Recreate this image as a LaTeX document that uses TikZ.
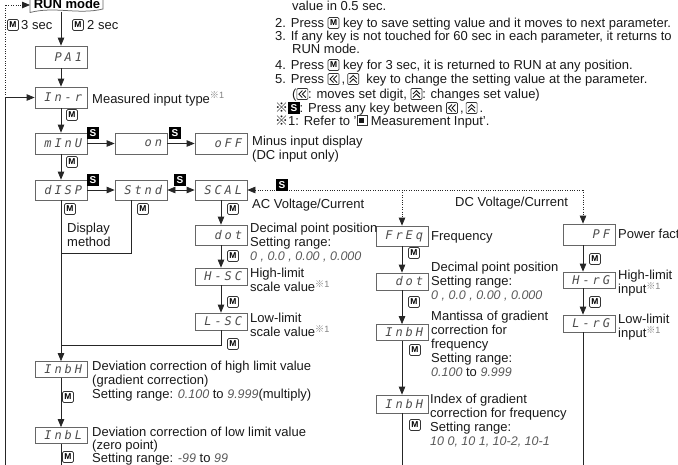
\documentclass[tikz,border=0pt]{standalone}
\usepackage{fontspec}
\setmainfont{Liberation Sans}
\newfontfamily\dispfont{DejaVu Sans Mono}[LetterSpace=24]
\newfontfamily\cjkfont{Noto Sans CJK JP}
\usetikzlibrary{arrows.meta}
\tikzset{
  ln/.style={draw=black!85, line width=0.75pt},
  arr/.style={ln, -{Triangle[length=8pt,width=6.5pt]}},
  darr/.style={ln, {Triangle[length=8pt,width=6.5pt]}-{Triangle[length=8pt,width=6.5pt]}},
  dotln/.style={draw=black!85, line width=0.75pt, dash pattern=on 1pt off 1.4pt},
  dotarr/.style={dotln, -{Triangle[length=8pt,width=6.5pt]}},
  dotrarr/.style={dotln, {Triangle[length=8pt,width=6.5pt]}-},
  disp/.style={draw=black!60, line width=0.75pt, rectangle, minimum width=52pt, minimum height=#1, inner sep=0pt, text width=42pt, align=right, font=\dispfont\itshape\fontsize{12}{12}\selectfont, text=black!70},
  disp/.default=21pt,
  mkey/.style={draw=black!80, line width=0.7pt, rounded corners=1.3pt, minimum width=11pt, minimum height=11pt, inner sep=0pt, text=black, font=\bfseries\fontsize{8.5}{8.5}\selectfont, anchor=center},
  skey/.style={fill=black, text=white, minimum width=11.5pt, minimum height=11.5pt, inner sep=0pt, font=\bfseries\fontsize{10}{10}\selectfont, anchor=center},
  txt/.style={anchor=north west, inner sep=0pt, align=left, text=black!90, font=\fontsize{13}{14}\selectfont},
}
\newcommand\rng[1]{{\itshape\fontsize{12.5}{12.5}\selectfont\color{black!65}#1}}
\newcommand\kome{{\cjkfont ※}}
\newcommand\refone{\textsuperscript{\color{black!50}\kome 1}}
\newcommand\iM{\tikz[baseline=-4.5pt]\node[mkey] at (0pt,0pt) {M};}
\newcommand\iS{\tikz[baseline=-4.5pt]\node[skey] at (0pt,0pt) {S};}
\newcommand\iL{\tikz[baseline=-4.5pt]{\draw[black!80,line width=0.7pt,rounded corners=1pt] (-5.5pt,-5.5pt) rectangle (5.5pt,5.5pt); \draw[line width=0.9pt] (0pt,3.5pt) -- (-3.5pt,0pt) -- (0pt,-3.5pt) (3.5pt,3.5pt) -- (0pt,0pt) -- (3.5pt,-3.5pt);}}
\newcommand\iU{\tikz[baseline=-4.5pt]{\draw[black!80,line width=0.7pt,rounded corners=1pt] (-5.5pt,-5.5pt) rectangle (5.5pt,5.5pt); \draw[line width=0.9pt] (-3.5pt,0pt) -- (0pt,3.5pt) -- (3.5pt,0pt) (-3.5pt,-3.5pt) -- (0pt,0pt) -- (3.5pt,-3.5pt);}}
\newcommand\iSq{\tikz[baseline=-4.5pt]{\draw[black!80,line width=0.7pt] (-5pt,-5pt) rectangle (5pt,5pt); \fill (-2.5pt,-2.5pt) rectangle (2.5pt,2.5pt);}}
\begin{document}
\begin{tikzpicture}[x=1pt,y=-1pt]
\useasboundingbox (0,0) rectangle (678,464);
\clip (0,0) rectangle (678,464);

% RUN mode
\draw[draw=black!60, line width=0.75pt] (30,-6) -- (30,12.5) .. controls (55,6) and (78,15) .. (103,9) -- (103,-6);
\node[inner sep=0pt, font=\bfseries\fontsize{13}{13}\selectfont] (run) at (67,3.5) {RUN mode};
\coordinate (runb) at (61,11.5);
\coordinate (runw) at (30,5);

% display boxes
\node[disp=22pt] (PA1) at (61,57) {PA1};
\node[disp] (Inr) at (61,97.5) {In-r};
\node[disp] (mInU) at (61,143.5) {mInU};
\node[disp=20pt] (dISP) at (61,190) {dISP};
\node[disp] (on) at (141,143.5) {on};
\node[disp] (oFF) at (221,143.5) {oFF};
\node[disp=20pt] (Stnd) at (141,190) {Stnd};
\node[disp=20pt] (SCAL) at (221,190) {SCAL};
\node[disp=20pt] (dot1) at (221,235) {dot};
\node[disp=17pt] (HSC) at (221,276.5) {H-SC};
\node[disp=17pt] (LSC) at (221,321.5) {L-SC};
\node[disp=16pt] (InbH1) at (61,369.5) {InbH};
\node[disp=16pt] (InbL) at (61,435.5) {InbL};
\node[disp=20pt] (FrEq) at (402,236) {FrEq};
\node[disp=17pt] (dot2) at (402,281.5) {dot};
\node[disp=16pt] (InbH2) at (402,332.5) {InbH};
\node[disp=18pt] (InbH3) at (402,404) {InbH};
\node[disp=21pt] (PF) at (589,234.5) {PF};
\node[disp=16pt] (HrG) at (589,280) {H-rG};
\node[disp=17pt] (LrG) at (589,323.5) {L-rG};

% connectors
\draw[arr] (runb) -- (PA1);
\draw[arr] (PA1) -- (Inr);
\draw[arr] (Inr) -- (mInU);
\draw[arr] (mInU) -- (dISP);
\draw[arr] (mInU) -- (on);
\draw[arr] (on) -- (oFF);
\draw[arr] (dISP) -- (Stnd);
\draw[darr] (Stnd) -- (SCAL);
\draw[arr] (SCAL) -- (dot1);
\draw[arr] (dot1) -- (HSC);
\draw[arr] (HSC) -- (LSC);
\coordinate (jA) at (61,253);
\coordinate (jB) at (61,345);
\draw[ln] ([xshift=-10pt]Stnd.south) |- (jA);
\draw[ln] (LSC.south) |- (jB);
\draw[arr] (dISP) -- (InbH1);
\draw[arr] (InbH1) -- (InbL);
\coordinate (lb) at (61,470);
\draw[ln] (InbL) -- (lb);

\coordinate (lbot) at (5,470);
\coordinate (lmid) at (5,97.5);
\coordinate (ltop) at (5,5);
\draw[arr] (lbot) -- (lmid) -- (Inr);
\draw[dotarr] (lmid) -- (ltop) -- (runw);

\coordinate (dA) at (402,190);
\coordinate (dB) at (583,190);
\draw[dotrarr] (SCAL) -- (dB);
\draw[dotarr] (dA) -- (FrEq);
\draw[dotarr] (dB) -- (dB |- PF.north);

\draw[arr] (FrEq) -- (dot2);
\draw[arr] (dot2) -- (InbH2);
\draw[arr] (InbH2) -- (InbH3);
\coordinate (mb) at (402,470);
\draw[ln] (InbH3) -- (mb);

\coordinate (rb) at (583,470);
\draw[arr] (dB |- PF.south) -- (dB |- HrG.north);
\draw[arr] (dB |- HrG.south) -- (dB |- LrG.north);
\draw[ln] (dB |- LrG.south) -- (rb);

% M keys
\node[mkey] (k1) at (13,25) {M};
\node[mkey] (k2) at (78,25) {M};
\node[mkey] (k3) at (72,115) {M};
\node[mkey] (k4) at (72,162) {M};
\node[mkey] (k5) at (70,209) {M};
\node[mkey] (k6) at (143,209) {M};
\node[mkey] (k7) at (233,209) {M};
\node[mkey] (k8) at (233,256) {M};
\node[mkey] (k9) at (233,302) {M};
\node[mkey] (k10) at (233,344) {M};
\node[mkey] (k11) at (68,397) {M};
\node[mkey] (k12) at (68,457) {M};
\node[mkey] (k13) at (414,253) {M};
\node[mkey] (k14) at (414,302) {M};
\node[mkey] (k15) at (415,350) {M};
\node[mkey] (k16) at (415,425) {M};
\node[mkey] (k17) at (595,259) {M};
\node[mkey] (k18) at (595,302) {M};

% S keys
\node[skey] (s1) at (93,133) {S};
\node[skey] (s2) at (175,133) {S};
\node[skey] (s3) at (93,180) {S};
\node[skey] (s4) at (180,180) {S};
\node[skey] (s5) at (282,185) {S};

% texts
\node[txt] (t3s) at (21,20) {3 sec};
\node[txt] (t2s) at (87,20) {2 sec};
\node[txt] (tInr) at (92,92) {Measured input type\refone};
\node[txt] (tmin) at (252,136) {Minus input display\\(DC input only)};
\node[txt] (tdisp) at (67,223) {Display\\method};
\node[txt] (tac) at (252,199) {AC Voltage/Current};
\node[txt] (tdc) at (455,197) {DC Voltage/Current};
\node[txt] (tdot1) at (250,223) {Decimal point position\\Setting range:\\\rng{0 , 0.0 , 0.00 , 0.000}};
\node[txt] (thsc) at (250,268) {High-limit\\scale value\refone};
\node[txt] (tlsc) at (250,313) {Low-limit\\scale value\refone};
\node[txt] (tfreq) at (431,231) {Frequency};
\node[txt] (tdot2) at (431,262) {Decimal point position\\Setting range:\\\rng{0 , 0.0 , 0.00 , 0.000}};
\node[txt] (tmant) at (431,311) {Mantissa of gradient\\correction for\\frequency\\Setting range:\\\rng{0.100} to \rng{9.999}};
\node[txt] (tidx) at (430,394) {Index of gradient\\correction for frequency\\Setting range:\\\rng{10 0, 10 1, 10-2, 10-1}};
\node[txt] (tpf) at (618,229) {Power factor};
\node[txt] (thrg) at (618,270) {High-limit\\input\refone};
\node[txt] (tlrg) at (618,314) {Low-limit\\input\refone};
\node[txt] (tinbh) at (92,361) {Deviation correction of high limit value\\(gradient correction)\\Setting range: \rng{0.100} to \rng{9.999}(multiply)};
\node[txt, font=\fontsize{13}{13}\selectfont] (tinbl) at (92,427) {Deviation correction of low limit value\\(zero point)\\Setting range: \rng{-99} to \rng{99}};

\node[txt] (n1) at (292,1) {value in 0.5 sec.};
\node[txt] (n2) at (275,17) {2. Press \iM\ key to save setting value and it moves to next parameter.};
\node[txt] (n3) at (275,31) {3. If any key is not touched for 60 sec in each parameter, it returns to};
\node[txt] (n4) at (292,44) {RUN mode.};
\node[txt] (n5) at (275,59) {4. Press \iM\ key for 3 sec, it is returned to RUN at any position.};
\node[txt] (n6) at (275,73) {5. Press \iL\,,\,\iU\ \ key to change the setting value at the parameter.};
\node[txt] (n7) at (292,88) {(\iL: moves set digit, \iU: changes set value)};
\node[txt] (n8) at (275,102) {\kome\iS: Press any key between \iL\,,\,\iU\,.};
\node[txt] (n9) at (275,115) {\kome 1: Refer to '\iSq\ Measurement Input'.};
\end{tikzpicture}
\end{document}
